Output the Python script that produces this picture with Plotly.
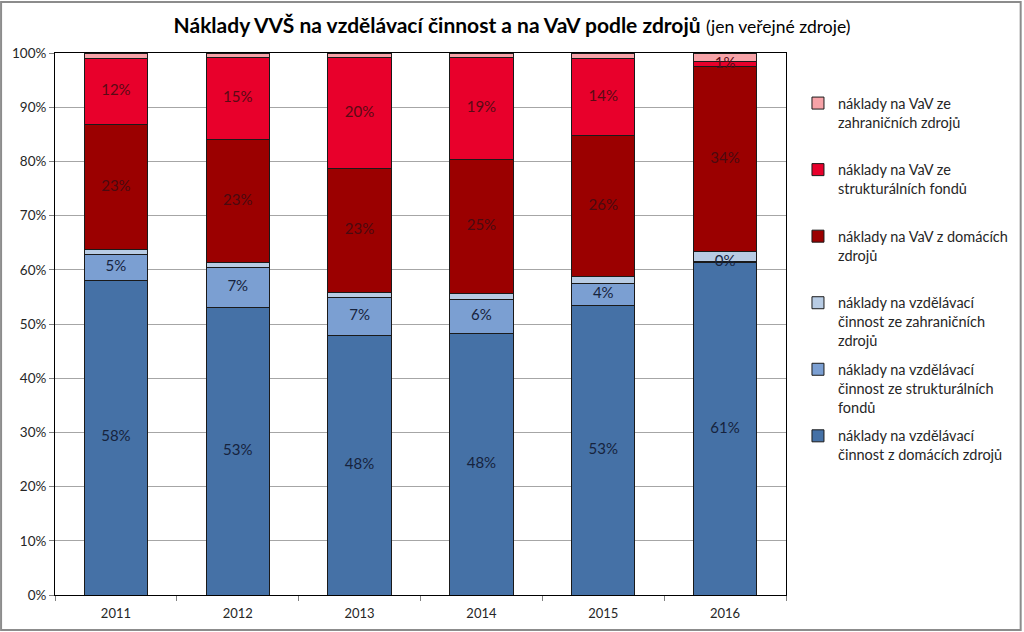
import plotly.graph_objects as go

years = ["2011", "2012", "2013", "2014", "2015", "2016"]

# percentage shares (stack order bottom -> top)
vzd_domaci = [58.1, 53.1, 47.9, 48.3, 53.4, 61.3]
vzd_strukt = [4.7, 7.3, 7.0, 6.3, 4.1, 0.2]
vzd_zahr = [0.9, 0.9, 1.0, 1.0, 1.3, 1.8]
vav_domaci = [23.2, 22.8, 22.8, 24.8, 26.0, 34.2]
vav_strukt = [12.0, 15.0, 20.4, 18.7, 14.1, 1.0]
vav_zahr = [1.1, 0.9, 0.9, 0.9, 1.1, 1.5]

series = [
    ("náklady na vzdělávací<br>činnost z domácích zdrojů", vzd_domaci, "#4571A6", "#16233d", True),
    ("náklady na vzdělávací<br>činnost ze strukturálních<br>fondů", vzd_strukt, "#7B9FD2", "#16233d", True),
    ("náklady na vzdělávací<br>činnost ze zahraničních<br>zdrojů", vzd_zahr, "#B8CCE4", "#16233d", False),
    ("náklady na VaV z domácích<br>zdrojů<br> ", vav_domaci, "#9B0000", "#4a0a10", True),
    ("náklady na VaV ze<br>strukturálních fondů<br> ", vav_strukt, "#E8002B", "#5a0a14", True),
    ("náklady na VaV ze<br>zahraničních zdrojů<br> ", vav_zahr, "#F7A3A8", "#5a0a14", False),
]

FONT = "Lato"

fig = go.Figure()
n = len(series)
for i, (name, vals, color, tcol, labeled) in enumerate(series):
    fig.add_trace(go.Bar(
        x=years, y=vals, name=name, legendgroup=f"g{i}", legendrank=100 + (n - i),
        marker=dict(color=color, line=dict(color="#1a1a1a", width=1)),
        width=0.52,
        hoverinfo="skip",
    ))

# value labels drawn on top of all bars
base = [0.0] * len(years)
for i, (name, vals, color, tcol, labeled) in enumerate(series):
    mids = [b + v / 2 for b, v in zip(base, vals)]
    if labeled:
        fig.add_trace(go.Scatter(
            x=years, y=mids, mode="text",
            text=[f"{round(v):d}%" for v in vals],
            textposition="middle center",
            textfont=dict(family=FONT, size=15, color=tcol),
            showlegend=False, hoverinfo="skip",
        ))
    base = [b + v for b, v in zip(base, vals)]

fig.update_layout(
    barmode="stack",
    width=1024, height=632,
    autosize=False,
    margin=dict(l=55, r=237, t=53, b=37),
    paper_bgcolor="white", plot_bgcolor="white",
    font=dict(family=FONT, size=13, color="#262626"),
    title=dict(
        text="<b>Náklady VVŠ na vzdělávací činnost a na VaV podle zdrojů</b> <span style='font-size:17.5px'>(jen veřejné zdroje)</span>",
        x=0.5, xref="container", xanchor="center",
        y=1 - 26 / 632, yref="container", yanchor="middle",
        font=dict(family=FONT, size=21, color="#000000"),
    ),
    xaxis=dict(
        showline=True, linecolor="#000000", linewidth=1, mirror=True,
        ticks="outside", tickson="boundaries", ticklen=5, tickcolor="#808080",
        ticklabelstandoff=6,
        tickfont=dict(family=FONT, size=13, color="#262626"),
        showgrid=False,
    ),
    yaxis=dict(
        range=[0, 100], dtick=10, ticksuffix="%",
        showline=True, linecolor="#000000", linewidth=1, mirror=True,
        ticks="outside", ticklen=5, tickcolor="#808080",
        showgrid=True, gridcolor="#A6A6A6", gridwidth=1,
        tickfont=dict(family=FONT, size=13.5, color="#262626"),
        zeroline=False,
    ),
    legend=dict(
        x=1.015, xanchor="left", y=0.937, yanchor="top",
        traceorder="grouped", valign="top",
        font=dict(family=FONT, size=14.5, color="#262626"),
        itemwidth=30, tracegroupgap=7,
        bgcolor="rgba(0,0,0,0)",
    ),
    showlegend=True,
    shapes=[
        dict(type="rect", xref="paper", yref="paper",
             x0=-54 / 732, x1=967 / 732, y0=-35 / 542, y1=593 / 542,
             line=dict(color="#8C8C8C", width=2), fillcolor="rgba(0,0,0,0)", layer="below"),
    ],
)

fig.write_html(
    "out.html",
    config={"displayModeBar": False, "responsive": False},
    post_script="document.body.style.margin='0';document.body.style.overflow='hidden';",
)
